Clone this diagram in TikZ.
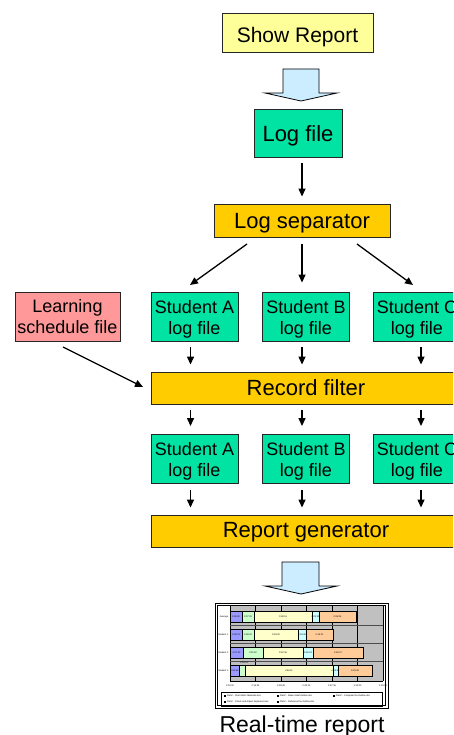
\documentclass[tikz,border=0pt]{standalone}
\usepackage{fontspec}
\setmainfont{Liberation Sans}
\usetikzlibrary{arrows.meta,calc}

\definecolor{boxyellow}{HTML}{FFFF99}
\definecolor{boxgreen}{HTML}{00E3A3}
\definecolor{boxorange}{HTML}{FFCC00}
\definecolor{boxpink}{HTML}{FF9999}
\definecolor{blockblue}{HTML}{CCECFF}
\definecolor{barblue}{HTML}{9999FF}
\definecolor{bargreen}{HTML}{CCFFCC}
\definecolor{baryellow}{HTML}{FFFFCC}
\definecolor{barcyan}{HTML}{CCFFFF}
\definecolor{barorange}{HTML}{FFCC99}
\definecolor{plotgray}{HTML}{C0C0C0}

\tikzset{
  boxframe/.style={draw=black!85, line width=0.9pt, inner sep=0pt},
  filebox/.style={boxframe, fill=boxgreen, minimum width=87pt, minimum height=49pt},
  bigtext/.style={inner sep=0pt, anchor=base, font=\fontsize{22}{26}\selectfont},
  filetext/.style={inner sep=0pt, align=center, font=\fontsize{18}{21}\selectfont},
  flow/.style={line width=1.3pt, -{Triangle[length=8pt,width=7pt]}},
  blockarrow/.style={draw=black, line width=0.8pt, fill=blockblue},
  bar/.style={draw=black, line width=0.5pt},
  tiny/.style={font=\fontsize{2.3}{2.6}\selectfont, inner sep=0pt},
}

\begin{document}
\begin{tikzpicture}[x=1pt,y=-1pt]
\clip (0,0) rectangle (453,735);
\fill[white] (0,0) rectangle (453,735);

% --- top of the flow ---
\node[boxframe, fill=boxyellow, minimum width=151pt, minimum height=39pt] (show) at (297.5,32.5) {};
\node[bigtext, font=\fontsize{21}{25}\selectfont] (show-t) at ($(show.center)+(0,10.5)$) {Show Report};

\draw[blockarrow] (283,69) -- (319,69) -- (319,93) -- (337,93) -- (301,101)
  -- (265,93) -- (283,93) -- cycle;

\node[boxframe, fill=boxgreen, minimum width=88pt, minimum height=48pt] (logf) at (298,133) {};
\node[bigtext] (logf-t) at ($(logf.center)+(0,8.5)$) {Log file};

\node[boxframe, fill=boxorange, minimum width=176pt, minimum height=33pt] (logsep) at (302,220.5) {};
\node[bigtext] (logsep-t) at ($(logsep.center)+(0,8)$) {Log separator};

\draw[flow, shorten <=6pt, shorten >=7pt] ([xshift=4pt]logf.south) -- (logsep.north);

% --- per-student log files ---
\node[boxframe, fill=boxpink, minimum width=105pt, minimum height=49pt] (sched) at (67.5,316.5) {};
\node[filetext] (sched-t) at ($(sched.center)+(0,0.5)$) {Learning\\schedule file};

\foreach \n/\x/\s in {sa1/194.5/A, sb1/306/B, sc1/417/C} {
  \node[filebox] (\n) at (\x,316.5) {};
  \node[filetext] (\n-t) at ($(\n.center)+(0,2.4)$) {Student \s\\log file};
}

\coordinate (sepL) at (247,244);
\coordinate (sepR) at (357,244);
\draw[flow] (sepL) -- (190,285) coordinate (tipA);
\draw[flow, shorten <=7pt, shorten >=9pt] ([xshift=-4pt]sb1.north |- logsep.south) -- ([xshift=-4pt]sb1.north);
\draw[flow] (sepR) -- (413,285) coordinate (tipC);

\node[boxframe, fill=boxorange, minimum width=310pt, minimum height=32pt] (rf) at (306,388) {};
\node[bigtext] (rf-t) at ($(rf.center)+(0,7)$) {Record filter};

\foreach \n/\dx in {sa1/-4, sb1/-4, sc1/4}
  \draw[flow, shorten <=6pt, shorten >=7pt] ([xshift=\dx pt]\n.south) -- ([xshift=\dx pt]\n.south |- rf.north);

\draw[flow] (63,347) -- (143,387);

% --- filtered files ---
\foreach \n/\x/\s in {sa2/194.5/A, sb2/306/B, sc2/417/C} {
  \node[filebox] (\n) at (\x,459) {};
  \node[filetext] (\n-t) at ($(\n.center)+(0,2.8)$) {Student \s\\log file};
}

\foreach \n/\dx in {sa2/-4, sb2/-4, sc2/4}
  \draw[flow, shorten <=6pt, shorten >=8pt] ([xshift=\dx pt]\n.south |- rf.south) -- ([xshift=\dx pt]\n.north);

\node[boxframe, fill=boxorange, minimum width=310pt, minimum height=32pt] (rg) at (306,531) {};
\node[bigtext] (rg-t) at ($(rg.center)+(0,6)$) {Report generator};

\foreach \n/\dx in {sa2/-4, sb2/-4, sc2/4}
  \draw[flow, shorten <=6pt, shorten >=7pt] ([xshift=\dx pt]\n.south) -- ([xshift=\dx pt]\n.south |- rg.north);

\draw[blockarrow] (282,562) -- (319,562) -- (319,586) -- (337,586) -- (301,594)
  -- (265,586) -- (282,586) -- cycle;

% --- the generated chart ---
\draw[line width=0.9pt, fill=white] (215,603) rectangle (388,708);
\draw[line width=0.4pt] (217.5,605.5) rectangle (385.5,705.5);
\fill[plotgray] (230,606) rectangle (383,681);
\foreach \i in {0,...,6} {
  \draw[line width=0.5pt] ({230+25.5*\i},606) -- ({230+25.5*\i},681);
}
\draw[line width=0.5pt] (230,681) -- (383,681);
\foreach \yy in {625.5,643.5,661.5}
  \draw[line width=0.4pt, black!70] (230,\yy) -- (383,\yy);

% bars: row top, then segment ends
\foreach \yt/\a/\b/\c/\d/\e/\lab in {
  611/242/254/312/319/356/Average,
  629/242/254/298/306/333/Student 1,
  647/243/263/303/313/363/Student 2,
  665/239/245/333/338/372/Student 3} {
  \draw[bar, fill=barblue]   (230,\yt) rectangle (\a,\yt+11.5);
  \draw[bar, fill=bargreen]  (\a,\yt) rectangle (\b,\yt+11.5);
  \draw[bar, fill=baryellow] (\b,\yt) rectangle (\c,\yt+11.5);
  \draw[bar, fill=barcyan]   (\c,\yt) rectangle (\d,\yt+11.5);
  \draw[bar, fill=barorange] (\d,\yt) rectangle (\e,\yt+11.5);
  \node[tiny, anchor=east] at (228.5,\yt+5.75) {\lab};
}
% segment values
\foreach \x/\y/\t in {
  236/616.75/0:05:20, 248/616.75/0:07:20, 283/616.75/0:28:51, 315.5/616.75/0:03:19, 337.5/616.75/0:26:06,
  236/634.75/0:06:01, 248/634.75/0:06:02, 276/634.75/0:29:20, 302/634.75/0:03:39, 319.5/634.75/0:19:21,
  236.5/652.75/0:07:20, 253/652.75/0:11:30, 283/652.75/0:22:36, 308/652.75/0:06:23, 338/652.75/0:26:27,
  234.5/670.75/0:04:50, 289/670.75/0:49:11, 335.5/670.75/0:02:51, 355/670.75/0:19:49,
  244/662.5/0:05:01} {
  \node[tiny] at (\x,\y) {\t};
}
% time axis
\foreach \i/\t in {0/0:00:00,1/0:14:24,2/0:28:48,3/0:43:12,4/0:57:36,5/1:12:00,6/1:26:24}
  \node[tiny] at ({230+25.5*\i},685.5) {\t};

% legend
\draw[line width=0.5pt] (221,692) rectangle (382,706);
\foreach \x/\y/\t in {
  224/696/PlanC - Start Editor Materials.doc,
  277/696/PlanC - Make Initial Outline.doc,
  333/696/PlanC - Complete the Outline.doc,
  224/702/PlanC - Check and Adjust Implement.doc,
  277/702/PlanC - Rehearse the Outline.doc} {
  \fill (\x,\y-1) rectangle (\x+2,\y+1);
  \node[tiny, anchor=west] at (\x+2.6,\y) {\t};
}

\node[font=\fontsize{23}{27}\selectfont, inner sep=0pt, anchor=base] (cap)
  at (302,732) {Real-time report};
\end{tikzpicture}
\end{document}
